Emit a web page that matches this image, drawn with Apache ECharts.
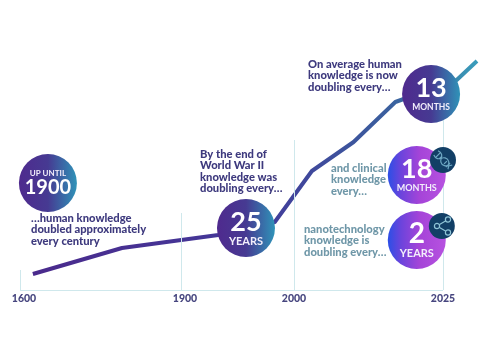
<!DOCTYPE html>
<html><head><meta charset="utf-8">
<style>html,body{margin:0;padding:0;background:#fff}#c{width:485px;height:360px}</style>
<script src="https://cdn.jsdelivr.net/npm/echarts@6/dist/echarts.min.js"></script>
</head><body><div id="c"></div>
<script>
const tickYears=[1600,1900,2000,2025];
const tickScale=[0,161,274,423];
const guideTops=[20,77,150,170];
const lineYears=[1624,1790,1933,1983,2003,2010,2017,2027.3,2030.7];
const lineValues=[16,42,55,68,119,148,188,210,229];
const badgeYears=[1652,1957.5,2023,2020.6,2020.6];
const badgeValues=[107,62,196,115,50];
const badgeBig=['1900','25','13','18','2'];
const badgeSmall=['UP UNTIL','YEARS','MONTHS','MONTHS','YEARS'];
const iconYears=[2025,2024.8];
const iconValues=[130,64];
const noteBlocks=[
 {x:31,y:213,c:'#3e3a7e',t:'…human knowledge\ndoubled approximately\nevery century'},
 {x:200,y:149,c:'#3e3a7e',t:'By the end of\nWorld War II\nknowledge was\ndoubling every…'},
 {x:308,y:59,c:'#3e3a7e',t:'On average human\nknowledge is now\ndoubling every…'},
 {x:331,y:163,c:'#6f97a8',t:'and clinical\nknowledge\nevery…'},
 {x:304,y:224,c:'#6f97a8',t:'nanotechnology\nknowledge is\ndoubling every…'}
];
const toScale=y=>{
  let i=0; while(i<tickYears.length-2&&y>tickYears[i+1])i++;
  return tickScale[i]+(y-tickYears[i])/(tickYears[i+1]-tickYears[i])*(tickScale[i+1]-tickScale[i]);
};
const grad=(stops)=>new echarts.graphic.LinearGradient(0,0,1,0,stops.map((c,i)=>({offset:c[0],color:c[1]})));
const coolStops=[[0,'#4f2a8e'],[0.5,'#463a92'],[1,'#2f93b8']];
const hotStops=[[0,'#2b4fe6'],[0.22,'#6a44dc'],[0.55,'#a544d8'],[1,'#b752e0']];
const F='Lato';
const chart=echarts.init(document.getElementById('c'),null,{renderer:'canvas'});
const guides=tickScale.map((s,i)=>[{coord:[s,0]},{coord:[s,guideTops[i]]}]);
guides.push([{coord:[0,0]},{coord:[tickScale[3],0]}]);
const dnaStroke={fill:'none',stroke:'#6fa9c4',lineWidth:1.2};
const iconStroke={fill:'#123f66',stroke:'#8fc4d6',lineWidth:1.2};
chart.setOption({
  animation:false,backgroundColor:'#fff',
  grid:{left:20,right:7,top:10,bottom:70},
  xAxis:{type:'value',min:0,max:458,splitLine:{show:false},axisLine:{show:false},axisTick:{show:false},
    axisLabel:{customValues:tickScale,margin:3,
      formatter:v=>{const i=tickScale.indexOf(v);return i<0?'':(i<2?'{o|'+tickYears[i]+'}':'{p|'+tickYears[i]+'}');},
      rich:{o:{fontFamily:F,fontWeight:900,fontSize:10.5,color:'#47467f',padding:[0,0,0,8]},
            p:{fontFamily:F,fontWeight:900,fontSize:10.5,color:'#47467f'}}}},
  yAxis:{type:'value',min:0,max:280,show:false},
  series:[
   {type:'line',data:lineYears.map((y,i)=>[toScale(y),lineValues[i]]),symbol:'none',z:3,
    lineStyle:{width:4,join:'round',color:new echarts.graphic.LinearGradient(0,0,1,0,[
      {offset:0,color:'#4a2a8c'},{offset:0.5,color:'#43399a'},{offset:0.8,color:'#3a5f9e'},{offset:0.92,color:'#3a80a8'},{offset:1,color:'#3a9fbd'}])},
    markLine:{silent:true,symbol:'none',label:{show:false},animation:false,
      lineStyle:{type:'solid',width:1,color:'#cfe8ec'},data:guides}},
   {type:'scatter',z:5,symbol:'circle',
    data:badgeYears.map((y,i)=>({value:[toScale(y),badgeValues[i]],symbolSize:58,
      itemStyle:{color:grad(i>2?hotStops:coolStops),opacity:1},
      label:{show:true,position:'inside',
        formatter:i===0?'{s|'+badgeSmall[i]+'}\n{b|'+badgeBig[i]+'}':'{b|'+badgeBig[i]+'}\n{s|'+badgeSmall[i]+'}',
        rich:{b:{fontFamily:F,fontWeight:'bold',fontSize:i===0?20:(i===4?28:27),lineHeight:i===0?19:27,color:'#fff'},
              s:{fontFamily:F,fontWeight:'bold',fontSize:i===0?8:(i===1||i===4?11:(i===2?8.5:9)),lineHeight:i===0?10:12,color:'#f2eefb'}}}}))},
   {type:'scatter',z:6,symbol:'circle',symbolSize:26,itemStyle:{color:'#123f66',opacity:1},
    data:iconYears.map((y,i)=>[toScale(y),iconValues[i]])}
  ],
  graphic:{elements:[
    ...noteBlocks.map(n=>({type:'text',left:n.x,top:n.y,z:20,
      style:{text:n.t,fill:n.c,font:'900 11.2px '+F,lineHeight:11.2}})),
    {type:'group',x:443,y:160,rotation:-Math.PI/4,z:20,children:[
      {type:'polyline',z:20,shape:{smooth:0.5,points:[[-10,-3],[-5,-3],[0,3],[5,3],[10,-3]]},style:dnaStroke},
      {type:'polyline',z:20,shape:{smooth:0.5,points:[[-10,3],[-5,3],[0,-3],[5,-3],[10,3]]},style:dnaStroke},
      {type:'line',z:20,shape:{x1:-7,y1:-3,x2:-7,y2:3},style:dnaStroke},
      {type:'line',z:20,shape:{x1:-3.5,y1:-2,x2:-3.5,y2:2},style:dnaStroke},
      {type:'line',z:20,shape:{x1:3.5,y1:-2,x2:3.5,y2:2},style:dnaStroke},
      {type:'line',z:20,shape:{x1:7,y1:-3,x2:7,y2:3},style:dnaStroke}]},
    {type:'group',x:442,y:226,z:20,children:[
      {type:'polyline',z:20,shape:{points:[[6,-6.5],[-5,0],[6,6.5]]},style:{fill:'none',stroke:'#8fc4d6',lineWidth:1.2}},
      {type:'circle',z:21,shape:{cx:6,cy:-6.5,r:2.6},style:iconStroke},
      {type:'circle',z:21,shape:{cx:-5,cy:0,r:2.6},style:iconStroke},
      {type:'circle',z:21,shape:{cx:6,cy:6.5,r:2.6},style:iconStroke}]}
  ]}
});
</script></body></html>
